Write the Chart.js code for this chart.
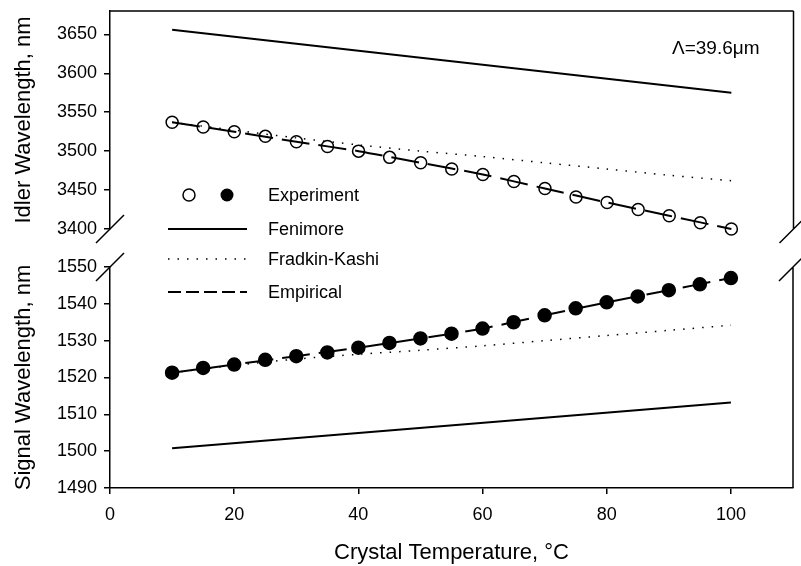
<!DOCTYPE html>
<html lang="en">
<head>
<meta charset="UTF-8">
<title>Idler / Signal Wavelength vs Crystal Temperature</title>
<script src="https://cdn.jsdelivr.net/npm/chart.js"></script>
<style>
    body { margin: 0; background: #fff; }
    .wrap { position: relative; width: 801px; height: 566px; }
    .wrap canvas { position: absolute; left: 0; top: 0; }
</style>
</head>
<body>
<div class="wrap">
    <canvas id="signalChart" width="801" height="566"></canvas>
    <canvas id="idlerChart" width="801" height="566"></canvas>
</div>
<script>
// crystal temperatures, °C
const temps = [10, 15, 20, 25, 30, 35, 40, 45, 50, 55, 60, 65, 70, 75, 80, 85, 90, 95, 100];
const tempsCoarse = [10, 20, 30, 40, 50, 60, 70, 80, 90, 100];
const tempsEnds = [10, 100];

// idler wavelength, nm
const idlerExperiment = [3537, 3531, 3525, 3519, 3512, 3506, 3500, 3492, 3485, 3477,
                         3470, 3461, 3452, 3441, 3434, 3425, 3417, 3408, 3400];
const idlerFenimore = [3656, 3575];
const idlerFradkin = [3537, 3527, 3517, 3508, 3500, 3493, 3485, 3477, 3469, 3462];
const idlerEmpirical = [3537, 3525, 3512, 3500, 3485, 3470, 3452, 3434, 3417, 3400];

// signal wavelength, nm
const signalExperiment = [1521.3, 1522.6, 1523.5, 1524.8, 1525.8, 1526.8, 1528.1, 1529.4, 1530.6, 1531.9,
                          1533.3, 1535.0, 1536.9, 1538.8, 1540.4, 1542.0, 1543.7, 1545.3, 1547.0];
const signalFenimore = [1500.8, 1513.2];
const signalFradkin = [1521.3, 1523.3, 1525.0, 1526.3, 1527.4, 1528.6, 1530.0, 1531.4, 1532.8, 1534.2];
const signalEmpirical = [1521.3, 1523.5, 1525.8, 1528.1, 1530.6, 1533.3, 1536.9, 1540.4, 1543.7, 1547.0];

// tick labels
const xTicks = [0, 20, 40, 60, 80, 100];
const idlerTicks = [3400, 3450, 3500, 3550, 3600, 3650];
const signalTicks = [1490, 1500, 1510, 1520, 1530, 1540, 1550];

const FONT = 'Arial, "Liberation Sans", Helvetica, sans-serif';
Chart.defaults.font.family = FONT;
Chart.defaults.color = '#000';

const pts = (xs, ys) => xs.map((x, i) => ({ x: x, y: ys[i] }));

const DOT = [1.5, 8];
const DASH = [28, 9];

// keep the plot area exactly where the layout padding puts it
function noPad(ax) {
    ax.paddingTop = 0; ax.paddingBottom = 0;
    ax.paddingLeft = 0; ax.paddingRight = 0;
}

function yAxis(ticks, min, max, title) {
    return {
        type: 'linear', position: 'left', min: min, max: max,
        afterBuildTicks: ax => { ax.ticks = ticks.map(v => ({ value: v })); },
        afterFit: ax => { ax.width = 105; noPad(ax); },
        grid: { drawOnChartArea: false, drawTicks: true, tickLength: 6, color: '#000', lineWidth: 1.5 },
        border: { display: true, color: '#000', width: 1.5 },
        ticks: { padding: 7, font: { size: 18 }, color: '#000', callback: v => String(v) },
        title: { display: true, text: title, font: { size: 22 }, color: '#000', padding: { top: 6, bottom: 0 } }
    };
}

// frame lines and axis break marks
const framePlugin = {
    id: 'frame',
    afterDraw(chart, args, opts) {
        const ctx = chart.ctx, a = chart.chartArea;
        ctx.save();
        ctx.strokeStyle = '#000';
        ctx.lineWidth = 1.5;
        ctx.beginPath();
        if (opts.top) {
            ctx.moveTo(a.left, a.top);
            ctx.lineTo(a.right, a.top);
        }
        ctx.moveTo(a.right, a.top);
        ctx.lineTo(a.right, a.bottom);
        const yb = opts.breakAt === 'bottom' ? a.bottom : a.top;
        [a.left, a.right].forEach(x => {
            ctx.moveTo(x - 14, yb + 14);
            ctx.lineTo(x + 14, yb - 14);
        });
        ctx.stroke();
        ctx.restore();
    }
};

// legend and annotation
const legendPlugin = {
    id: 'customLegend',
    afterDraw(chart) {
        const ctx = chart.ctx;
        ctx.save();
        ctx.strokeStyle = '#000';
        ctx.fillStyle = '#000';
        ctx.font = '18px ' + FONT;
        ctx.textBaseline = 'middle';
        ctx.textAlign = 'left';

        ctx.lineWidth = 1.5;
        ctx.beginPath(); ctx.arc(189, 195, 6, 0, Math.PI * 2); ctx.stroke();
        ctx.beginPath(); ctx.arc(227, 195, 6.5, 0, Math.PI * 2); ctx.fill();
        ctx.fillText('Experiment', 268, 196);

        const sample = (y, dash, w) => {
            ctx.lineWidth = w;
            ctx.setLineDash(dash);
            ctx.beginPath(); ctx.moveTo(168, y); ctx.lineTo(247, y); ctx.stroke();
        };
        sample(229, [], 2);
        ctx.fillText('Fenimore', 268, 230);
        sample(259, DOT, 1.5);
        ctx.fillText('Fradkin-Kashi', 268, 260);
        sample(292, [13, 5], 2);
        ctx.setLineDash([]);
        ctx.fillText('Empirical', 268, 293);

        ctx.font = '19px ' + FONT;
        ctx.fillText('\u039B=39.6\u03BCm', 672, 49);
        ctx.restore();
    }
};

function datasets(exp, fen, fra, emp, filled) {
    return [{
        label: 'Experiment', data: pts(temps, exp), showLine: false,
        pointRadius: filled ? 6.5 : 6, pointBorderWidth: 1.5, pointBorderColor: '#000',
        pointBackgroundColor: filled ? '#000' : 'rgba(0,0,0,0)', clip: false
    }, {
        label: 'Empirical', data: pts(tempsCoarse, emp), borderColor: '#000', borderWidth: 2,
        borderDash: DASH, pointRadius: 0, tension: 0.3, clip: false
    }, {
        label: 'Fradkin-Kashi', data: pts(tempsCoarse, fra), borderColor: '#000', borderWidth: 1.5,
        borderDash: DOT, pointRadius: 0, tension: 0.3, clip: false
    }, {
        label: 'Fenimore', data: pts(tempsEnds, fen), borderColor: '#000', borderWidth: 2,
        pointRadius: 0, clip: false
    }];
}

const common = {
    responsive: false,
    animation: false,
    events: [],
    plugins: { legend: { display: false }, tooltip: { enabled: false } }
};

new Chart(document.getElementById('signalChart'), {
    type: 'line',
    data: { datasets: datasets(signalExperiment, signalFenimore, signalFradkin, signalEmpirical, true) },
    options: Object.assign({}, common, {
        layout: { padding: { top: 267, left: 5, right: 2, bottom: 0 } },
        scales: {
            x: {
                type: 'linear', min: 0, max: 110,
                afterBuildTicks: ax => { ax.ticks = xTicks.map(v => ({ value: v })); },
                afterFit: ax => { ax.height = 78; noPad(ax); },
                grid: { drawOnChartArea: false, drawTicks: true, tickLength: 6, color: '#000', lineWidth: 1.5 },
                border: { display: true, color: '#000', width: 1.5 },
                ticks: { padding: 10, font: { size: 18 }, color: '#000', maxRotation: 0, autoSkip: false, callback: v => String(v) },
                title: { display: true, text: 'Crystal Temperature, \u00B0C', font: { size: 22 }, color: '#000', padding: { top: 0, bottom: 0 } }
            },
            y: yAxis(signalTicks, 1490, 1550, 'Signal Wavelength, nm')
        },
        plugins: Object.assign({}, common.plugins, { frame: { top: false, breakAt: 'top' } })
    }),
    plugins: [framePlugin]
});

new Chart(document.getElementById('idlerChart'), {
    type: 'line',
    data: { datasets: datasets(idlerExperiment, idlerFenimore, idlerFradkin, idlerEmpirical, false) },
    options: Object.assign({}, common, {
        layout: { padding: { top: 11, left: 5, right: 2, bottom: 337 } },
        scales: {
            x: { type: 'linear', min: 0, max: 110, display: false },
            y: yAxis(idlerTicks, 3400, 3680, 'Idler Wavelength, nm')
        },
        plugins: Object.assign({}, common.plugins, { frame: { top: true, breakAt: 'bottom' } })
    }),
    plugins: [framePlugin, legendPlugin]
});
</script>
</body>
</html>
